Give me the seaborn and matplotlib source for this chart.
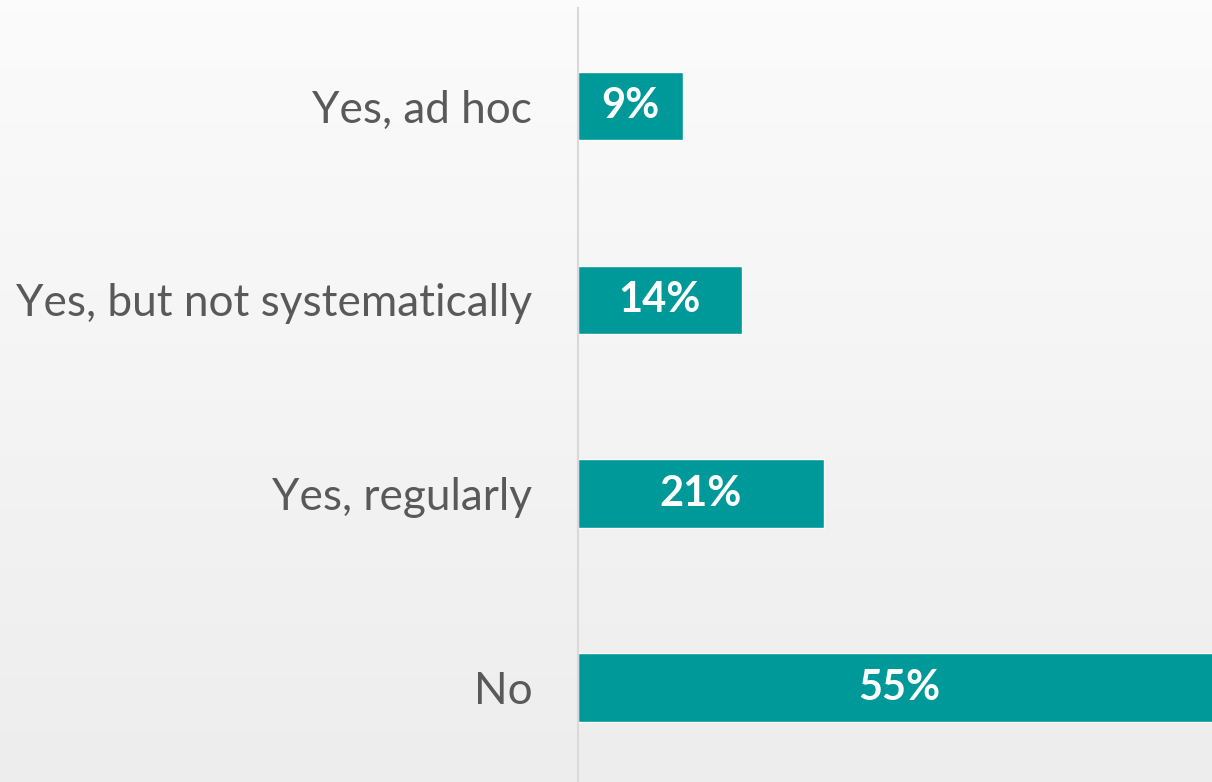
import numpy as np
import pandas as pd
import matplotlib
matplotlib.use("Agg")
import matplotlib.pyplot as plt
import seaborn as sns

categories = ["Yes, ad hoc", "Yes, but not systematically", "Yes, regularly", "No"]
values = [9, 14, 21, 55]
value_labels = ["9%", "14%", "21%", "55%"]

df = pd.DataFrame({"category": categories, "value": values})

sns.set_theme(style="white")
plt.rcParams["font.family"] = ["Lato", "DejaVu Sans"]

W, H = 1212, 782
fig = plt.figure(figsize=(W / 100, H / 100), dpi=100)

# gradient background
bg = fig.add_axes([0, 0, 1, 1], zorder=0)
grad = np.linspace(0, 1, 256).reshape(-1, 1)
top = np.array([0.985, 0.985, 0.985])
bot = np.array([0.93, 0.93, 0.93])
img = top[None, None, :] * (1 - grad[:, :, None]) + bot[None, None, :] * grad[:, :, None]
bg.imshow(img, aspect="auto", extent=[0, 1, 0, 1], origin="upper")
bg.axis("off")

ax = fig.add_axes([578 / W, 0, 1 - 578 / W, (782 - 8) / H], zorder=1)
ax.patch.set_alpha(0)
sns.barplot(data=df, y="category", x="value", orient="h", color="#009999",
            width=0.355, saturation=1, ax=ax)
ax.set_xlim(0, 54.2)
ax.set_ylim(3.485, -0.505)
ax.set_xlabel("")
ax.set_ylabel("")
ax.set_xticks([])
for s in ["top", "right", "bottom"]:
    ax.spines[s].set_visible(False)
ax.spines["left"].set_color("#d9d9d9")
ax.spines["left"].set_linewidth(1.5)
ax.tick_params(axis="y", length=0, pad=33, labelsize=31.8, labelcolor="#595959")

for i, (v, lab) in enumerate(zip(values, value_labels)):
    ax.text(v / 2, i, lab, ha="center", va="center", color="white",
            fontsize=30, fontweight="bold", clip_on=False)

fig.savefig("out.png", dpi=100)
